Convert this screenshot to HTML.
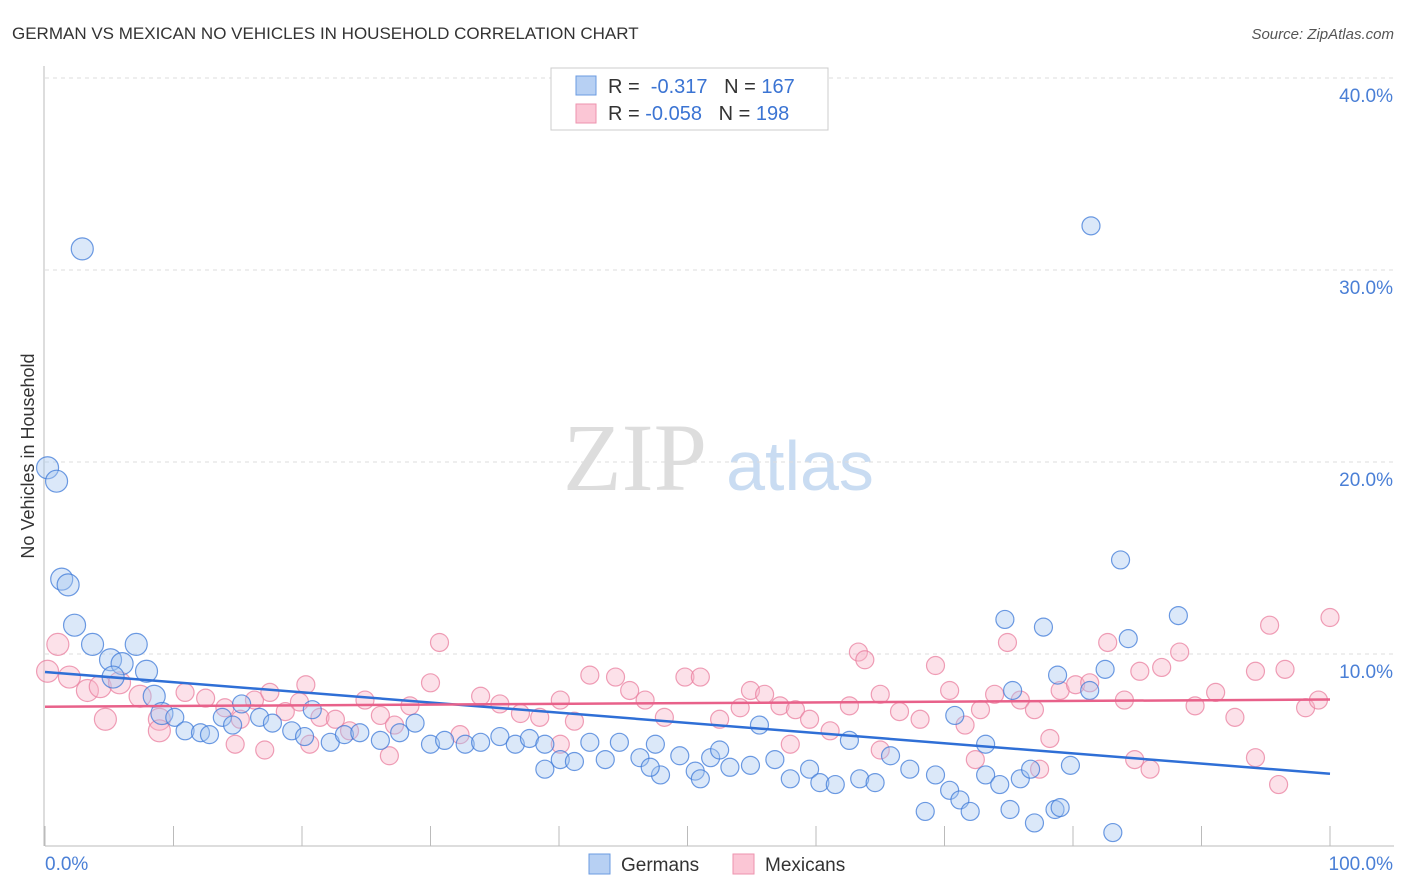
<!DOCTYPE html>
<html><head><meta charset="utf-8"><style>
body{margin:0;background:#fff;font-family:"Liberation Sans",sans-serif;}
</style></head><body>
<svg id="chart" width="1406" height="892" xmlns="http://www.w3.org/2000/svg" style="display:block">
<text x="12" y="39" font-size="17" fill="#333">GERMAN VS MEXICAN NO VEHICLES IN HOUSEHOLD CORRELATION CHART</text>
<text x="1394" y="39" font-size="15" fill="#555" font-style="italic" text-anchor="end">Source: ZipAtlas.com</text>
<text x="635" y="490" font-size="96" fill="#ddd" font-family="Liberation Serif" text-anchor="middle">ZIP</text>
<text x="800" y="490" font-size="70" fill="#c9dcf2" text-anchor="middle">atlas</text>
<g id="grid"></g><g id="axes"></g><g id="pts"></g><g id="trends"></g>
<text transform="translate(34,456) rotate(-90)" font-size="18" fill="#333" text-anchor="middle">No Vehicles in Household</text>
<g>
<rect x="551" y="68" width="277" height="62" fill="#fff" stroke="#ccc"/>
<rect x="576" y="76" width="20" height="19" fill="#b7d0f3" stroke="#6b9be0"/>
<rect x="576" y="104" width="20" height="19" fill="#fbc6d5" stroke="#ee93ae"/>
<text x="608" y="93" font-size="20" fill="#333">R = <tspan fill="#3b74d3">&#160;-0.317</tspan>&#160;&#160;&#160;N = <tspan fill="#3b74d3">167</tspan></text>
<text x="608" y="120" font-size="20" fill="#333">R = <tspan fill="#3b74d3">-0.058</tspan>&#160;&#160;&#160;N = <tspan fill="#3b74d3">198</tspan></text>
</g>
<g>
<rect x="589" y="854" width="21" height="20" fill="#b7d0f3" stroke="#6b9be0"/>
<text x="621" y="871" font-size="19" fill="#333">Germans</text>
<rect x="733" y="854" width="21" height="20" fill="#fbc6d5" stroke="#ee93ae"/>
<text x="765" y="871" font-size="19" fill="#333">Mexicans</text>
</g>
</svg>
<script>
const yTicks=[10,20,30,40];
const yTickLabels=["10.0%","20.0%","30.0%","40.0%"];
const xTicks=[0,10,20,30,40,50,60,70,80,90,100];
const germX=[2.9,0.2,0.9,1.3,1.8,2.3,3.7,7.1,5.1,6.0,7.9,5.3,8.5,9.1,10.1,10.9,12.1,12.8,13.8,15.3,14.6,16.7,17.7,19.2,20.8,20.2,22.2,23.3,24.5,26.1,27.6,28.8,30.0,31.1,32.7,33.9,35.4,36.6,37.7,38.9,40.1,41.2,42.4,43.6,44.7,46.3,47.9,49.4,50.6,51.8,53.3,54.9,55.6,56.8,58.0,59.5,60.3,61.5,62.6,63.4,64.6,65.8,67.3,68.5,69.3,70.4,71.2,72.0,73.2,74.3,75.1,75.9,77.0,78.6,79.0,79.8,81.3,82.5,83.1,83.7,84.3,88.2,74.7,77.7,81.4,78.8,75.3,70.8,73.2,76.7,47.1,51.0,52.5,47.5,38.9];
const germY=[31.1,19.7,19.0,13.9,13.6,11.5,10.5,10.5,9.7,9.5,9.1,8.8,7.8,6.9,6.7,6.0,5.9,5.8,6.7,7.4,6.3,6.7,6.4,6.0,7.1,5.7,5.4,5.8,5.9,5.5,5.9,6.4,5.3,5.5,5.3,5.4,5.7,5.3,5.6,5.3,4.5,4.4,5.4,4.5,5.4,4.6,3.7,4.7,3.9,4.6,4.1,4.2,6.3,4.5,3.5,4.0,3.3,3.2,5.5,3.5,3.3,4.7,4.0,1.8,3.7,2.9,2.4,1.8,3.7,3.2,1.9,3.5,1.2,1.9,2.0,4.2,8.1,9.2,0.7,14.9,10.8,12.0,11.8,11.4,32.3,8.9,8.1,6.8,5.3,4.0,4.1,3.5,5.0,5.3,4.0];
const mexX=[1.0,0.2,1.9,3.3,4.3,5.8,7.4,8.9,10.9,12.5,14.0,15.2,16.3,17.5,18.7,19.8,20.3,21.4,22.6,23.7,24.9,26.1,27.2,28.4,30.0,30.7,32.3,33.9,35.4,37.0,38.5,40.1,41.2,42.4,44.4,45.5,46.7,48.2,49.8,51.0,52.5,54.1,54.9,56.0,57.2,58.4,59.5,61.1,62.6,63.3,63.8,65.0,66.5,68.1,69.3,70.4,71.6,72.8,73.9,74.9,75.9,77.0,78.2,79.0,80.2,81.3,82.7,84.0,85.2,86.9,88.3,89.5,91.1,92.6,94.2,95.3,96.5,98.1,99.1,100,96.0,94.2,84.8,86.0,77.4,72.4,65.0,58.0,40.1,20.6,26.8,17.1,14.8,8.9,4.7];
const mexY=[10.5,9.1,8.8,8.1,8.3,8.5,7.8,6.6,8.0,7.7,7.2,6.6,7.6,8.0,7.0,7.5,8.4,6.7,6.6,6.0,7.6,6.8,6.3,7.3,8.5,10.6,5.8,7.8,7.4,6.9,6.7,7.6,6.5,8.9,8.8,8.1,7.6,6.7,8.8,8.8,6.6,7.2,8.1,7.9,7.3,7.1,6.6,6.0,7.3,10.1,9.7,7.9,7.0,6.6,9.4,8.1,6.3,7.1,7.9,10.6,7.6,7.1,5.6,8.1,8.4,8.5,10.6,7.6,9.1,9.3,10.1,7.3,8.0,6.7,9.1,11.5,9.2,7.2,7.6,11.9,3.2,4.6,4.5,4.0,4.0,4.5,5.0,5.3,5.3,5.3,4.7,5.0,5.3,6.0,6.6];
const svg=document.getElementById('chart');
const NS="http://www.w3.org/2000/svg";
const X0=45,X1=1330,Y0=846,PY=19.2;
const sx=v=>X0+(X1-X0)*v/100, sy=v=>Y0-v*PY;
function mk(t,a,p){const e=document.createElementNS(NS,t);for(const k in a)e.setAttribute(k,a[k]);p.appendChild(e);return e;}
const grid=document.getElementById('grid'),axes=document.getElementById('axes'),pts=document.getElementById('pts'),tr=document.getElementById('trends');
yTicks.forEach((v,i)=>{
 const l=mk('line',{x1:X0,x2:1394,y1:sy(v),y2:sy(v),stroke:'#ddd','stroke-dasharray':'4,4'},grid);
 
 
 const t=mk('text',{x:1393,y:sy(v)+24,'font-size':19,fill:'#4a7fd6','text-anchor':'end'},axes);
 t.textContent=yTickLabels[i];
 
 
});
const ax=mk('line',{x1:X0,x2:1394,y1:Y0,y2:Y0,stroke:'#bbb'},axes);


const ay=mk('line',{x1:X0-1,x2:X0-1,y1:66,y2:Y0,stroke:'#bbb'},axes);


xTicks.forEach(v=>{const l=mk('line',{x1:sx(v),x2:sx(v),y1:Y0-20,y2:Y0,stroke:'#bbb'},axes);
 
 });
const xl0=mk('text',{x:45,y:870,'font-size':19,fill:'#4a7fd6'},axes);xl0.textContent='0.0%';


const xl1=mk('text',{x:1393,y:870,'font-size':19,fill:'#4a7fd6','text-anchor':'end'},axes);xl1.textContent='100.0%';


function dots(X,Y,fill,stroke,name){X.forEach((x,i)=>{
 const r=x<10?11:9;
 const c=mk('circle',{cx:sx(x),cy:sy(Y[i]),r:r,fill:fill,'fill-opacity':0.4,stroke:stroke,'stroke-width':1.2,'stroke-opacity':0.75},pts);
 
 });}
dots(mexX,mexY,'#f8b4c8','#ea7f9f','mexican-point');
dots(germX,germY,'#a6c5f0','#3d7ad8','german-point');
function fit(X,Y){const n=X.length;let mx=0,my=0;X.forEach((x,i)=>{mx+=x;my+=Y[i]});mx/=n;my/=n;let a=0,b=0;X.forEach((x,i)=>{a+=(x-mx)*(Y[i]-my);b+=(x-mx)*(x-mx)});const s=a/b;return [my-s*mx,my+s*(100-mx)];}
const g=fit(germX,germY),m=fit(mexX,mexY);
const lg=mk('line',{x1:sx(0),y1:sy(g[0]),x2:sx(100),y2:sy(g[1]),stroke:'#2f6fd6','stroke-width':2.5},tr);


const lm=mk('line',{x1:sx(0),y1:sy(m[0]),x2:sx(100),y2:sy(m[1]),stroke:'#e8618a','stroke-width':2.5},tr);


</script>
</body></html>
